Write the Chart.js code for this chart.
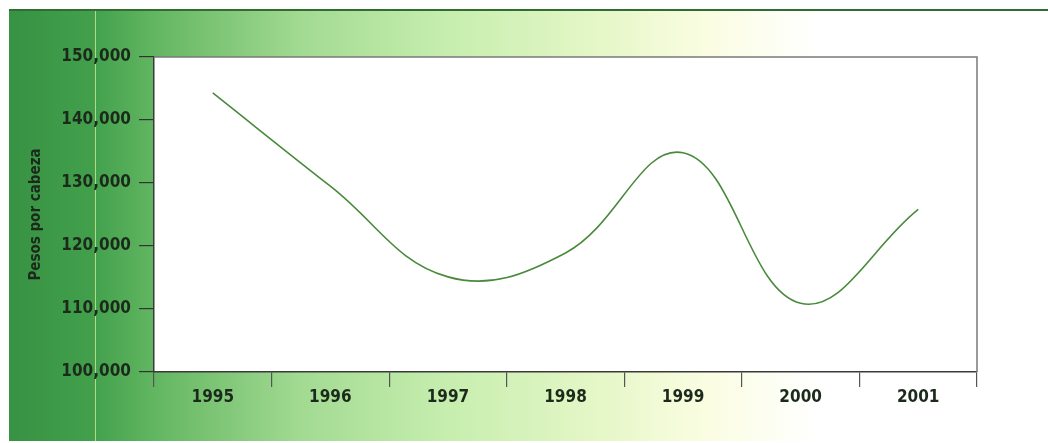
<!DOCTYPE html>
<html>
<head>
<meta charset="utf-8">
<script src="https://cdn.jsdelivr.net/npm/chart.js@4/dist/chart.umd.min.js"></script>
<style>
  html, body { margin:0; padding:0; background:#fff; }
  #wrap { width:1048px; height:443px; position:relative; }
</style>
</head>
<body>
<div id="wrap"><canvas id="c" width="1048" height="443"></canvas></div>
<script>
// ── DATA ──
const years  = ['1995','1996','1997','1998','1999','2000','2001'];
const pesos  = [144300, 129500, 115100, 118900, 134800, 110900, 125800];
const yTicks = [100000, 110000, 120000, 130000, 140000, 150000];

const FONT = "'DejaVu Sans Condensed', 'Liberation Sans Narrow', 'Liberation Sans', sans-serif";
const INK  = '#1c2a1c';

// ── BACKGROUND PANEL + WHITE PLOT ──
const panel = {
  id: 'panel',
  beforeDraw(chart) {
    const { ctx, chartArea: a } = chart;
    ctx.save();
    const g = ctx.createLinearGradient(9, 0, 1048, 0);
    g.addColorStop(0.00, '#379243');
    g.addColorStop(0.08, '#42a04c');
    g.addColorStop(0.14, '#62b661');
    g.addColorStop(0.28, '#a2da92');
    g.addColorStop(0.42, '#c6eeae');
    g.addColorStop(0.57, '#e6f7c8');
    g.addColorStop(0.67, '#fafde1');
    g.addColorStop(0.78, '#ffffff');
    g.addColorStop(1.00, '#ffffff');
    ctx.fillStyle = g;
    ctx.fillRect(9, 10, 1039, 431);
    // top rule
    ctx.fillStyle = '#2f6d31';
    ctx.fillRect(9, 9, 1039, 2);
    // thin yellowish vertical line
    ctx.fillStyle = 'rgba(230,240,150,0.7)';
    ctx.fillRect(95, 11, 1, 430);
    // plot area
    ctx.fillStyle = '#ffffff';
    ctx.fillRect(a.left, a.top, a.right - a.left, a.bottom - a.top);
    ctx.restore();
  },
  afterDatasetsDraw(chart) {
    const { ctx, chartArea: a } = chart;
    ctx.save();
    ctx.strokeStyle = '#7a7a7a';
    ctx.lineWidth = 1.5;
    ctx.beginPath();
    ctx.moveTo(a.left, a.top);
    ctx.lineTo(a.right, a.top);
    ctx.lineTo(a.right, a.bottom);
    ctx.stroke();
    ctx.restore();
  }
};

new Chart(document.getElementById('c'), {
  type: 'line',
  data: {
    labels: years,
    datasets: [{
      data: pesos,
      borderColor: '#4a8a3c',
      borderWidth: 1.6,
      pointRadius: 0,
      tension: 0.4,
      fill: false
    }]
  },
  options: {
    responsive: false,
    animation: false,
    layout: { padding: { left: 0, right: 71, top: 57, bottom: 31 } },
    plugins: { legend: { display: false }, tooltip: { enabled: false } },
    scales: {
      x: {
        offset: true,
        afterFit: s => { s.height = 40; },
        grid: { offset: true, drawOnChartArea: false, drawTicks: true, tickLength: 15, color: '#555', lineWidth: 1.2 },
        border: { display: true, color: '#3a3a3a', width: 1.5 },
        ticks: { color: INK, padding: 0, font: { family: FONT, size: 17, weight: 'bold' }, maxRotation: 0 }
      },
      y: {
        min: yTicks[0],
        max: yTicks[yTicks.length - 1],
        afterFit: s => { s.width = 154; },
        afterBuildTicks: s => { s.ticks = yTicks.map(v => ({ value: v })); },
        grid: { drawOnChartArea: false, drawTicks: true, tickLength: 15, color: '#333', lineWidth: 1.2 },
        border: { display: true, color: '#3a3a3a', width: 1.5 },
        ticks: {
          color: INK, padding: 8,
          font: { family: FONT, size: 17, weight: 'bold' },
          callback: v => Number(v).toLocaleString('en-US')
        },
        title: {
          display: true,
          text: 'Pesos por cabeza',
          color: INK,
          font: { family: FONT, size: 15, weight: 'bold' },
          padding: { top: 27, bottom: 0 }
        }
      }
    }
  },
  plugins: [panel]
});
</script>
</body>
</html>
